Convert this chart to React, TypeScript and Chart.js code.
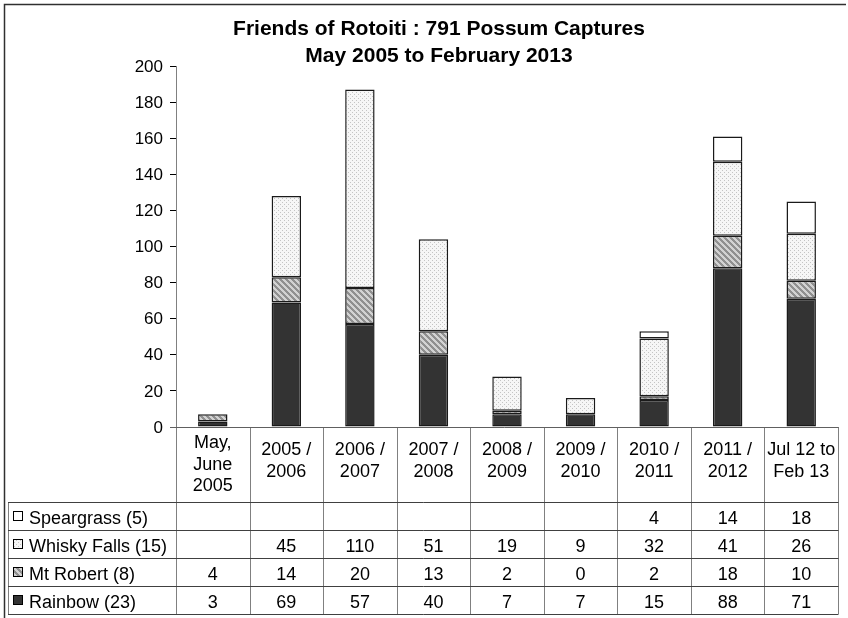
import React, { useEffect, useRef } from "react";
import { Chart, registerables } from "chart.js";

Chart.register(...registerables);

// ---- Data ----
const categoryLines: string[][] = [
  ["May,", "June", "2005"],
  ["2005 /", "2006"],
  ["2006 /", "2007"],
  ["2007 /", "2008"],
  ["2008 /", "2009"],
  ["2009 /", "2010"],
  ["2010 /", "2011"],
  ["2011 /", "2012"],
  ["Jul 12 to", "Feb 13"],
];
const categories = categoryLines.map((l) => l.join(" "));

const speargrass: (number | null)[] = [null, null, null, null, null, null, 4, 14, 18];
const whiskyFalls: (number | null)[] = [null, 45, 110, 51, 19, 9, 32, 41, 26];
const mtRobert: (number | null)[] = [4, 14, 20, 13, 2, 0, 2, 18, 10];
const rainbow: (number | null)[] = [3, 69, 57, 40, 7, 7, 15, 88, 71];

const seriesNames = ["Speargrass (5)", "Whisky Falls (15)", "Mt Robert (8)", "Rainbow (23)"];
const titleLines = ["Friends of Rotoiti : 791 Possum Captures", "May 2005 to February 2013"];
const yMin = 0;
const yMax = 200;
const yStep = 20;

const FONT = "'Liberation Sans', Arial, sans-serif";

function makeDotPattern(): CanvasPattern | string {
  const c = document.createElement("canvas");
  c.width = 4;
  c.height = 4;
  const g = c.getContext("2d");
  if (!g) return "#eeeeee";
  g.fillStyle = "#f6f6f6";
  g.fillRect(0, 0, 4, 4);
  g.fillStyle = "#c4c4c4";
  g.fillRect(0, 0, 1, 1);
  g.fillRect(2, 2, 1, 1);
  const p = g.createPattern(c, "repeat");
  return p || "#eeeeee";
}

function makeStripePattern(): CanvasPattern | string {
  const c = document.createElement("canvas");
  const n = 6;
  c.width = n;
  c.height = n;
  const g = c.getContext("2d");
  if (!g) return "#aaaaaa";
  const img = g.createImageData(n, n);
  for (let y = 0; y < n; y++) {
    for (let x = 0; x < n; x++) {
      const k = (((x - y) % n) + n) % n;
      const v = k < 3 ? 0x90 : 0xd2;
      const i = (y * n + x) * 4;
      img.data[i] = v;
      img.data[i + 1] = v;
      img.data[i + 2] = v;
      img.data[i + 3] = 255;
    }
  }
  g.putImageData(img, 0, 0);
  const p = g.createPattern(c, "repeat");
  return p || "#aaaaaa";
}

export default function App() {
  const ref = useRef<HTMLCanvasElement | null>(null);

  useEffect(() => {
    document.body.style.margin = "0";
    const canvas = ref.current;
    if (!canvas) return;

    const dots = makeDotPattern();
    const stripes = makeStripePattern();
    const fills: (CanvasPattern | string)[] = ["#ffffff", dots, stripes, "#333333"];

    const tablePlugin = {
      id: "tablePlugin",
      afterDraw(chart: any) {
        const ctx: CanvasRenderingContext2D = chart.ctx;
        const xs = chart.scales.x;
        const ys = chart.scales.y;
        const n = categories.length;
        const colW = (xs.right - xs.left) / n;
        const top = ys.getPixelForValue(0);
        const headerH = 75;
        const rowH = 28;
        const tableLeft = 8;
        const firstCol = xs.getPixelForValue(0) - colW / 2;
        const lastCol = xs.getPixelForValue(n - 1) + colW / 2;
        const bottom = top + headerH + rowH * 4;

        ctx.save();
        // outer chart border (top + left)
        ctx.strokeStyle = "#303030";
        ctx.lineWidth = 1.5;
        ctx.beginPath();
        ctx.moveTo(4.5, 618);
        ctx.lineTo(4.5, 4.5);
        ctx.lineTo(846, 4.5);
        ctx.stroke();

        // title
        ctx.fillStyle = "#000000";
        ctx.font = `bold 21px ${FONT}`;
        ctx.textAlign = "center";
        ctx.textBaseline = "alphabetic";
        ctx.fillText(titleLines[0], 439, 35);
        ctx.fillText(titleLines[1], 439, 62);

        // vertical column lines
        ctx.strokeStyle = "#808080";
        ctx.lineWidth = 1;
        for (let i = 0; i <= n; i++) {
          const x = Math.round(firstCol + i * colW) + 0.5;
          ctx.beginPath();
          ctx.moveTo(x, top);
          ctx.lineTo(x, bottom);
          ctx.stroke();
        }
        ctx.beginPath();
        ctx.moveTo(tableLeft + 0.5, top + headerH);
        ctx.lineTo(tableLeft + 0.5, bottom);
        ctx.stroke();

        // horizontal lines
        ctx.strokeStyle = "#404040";
        for (let r = 0; r <= 4; r++) {
          const y = Math.round(top + headerH + r * rowH) + 0.5;
          ctx.beginPath();
          ctx.moveTo(tableLeft, y);
          ctx.lineTo(lastCol + 0.5, y);
          ctx.stroke();
        }
        // x axis line (zero line)
        ctx.strokeStyle = "#606060";
        ctx.beginPath();
        ctx.moveTo(firstCol - 6, Math.round(top) + 0.5);
        ctx.lineTo(lastCol + 0.5, Math.round(top) + 0.5);
        ctx.stroke();

        // header labels
        ctx.font = `18px ${FONT}`;
        ctx.fillStyle = "#000000";
        ctx.textAlign = "center";
        for (let i = 0; i < n; i++) {
          const cx = xs.getPixelForValue(i);
          const lines = categoryLines[i];
          const start = lines.length === 3 ? top + 21 : top + 28;
          lines.forEach((t, k) => ctx.fillText(t, cx, start + k * 21.7));
        }

        // rows
        const rowsData = [speargrass, whiskyFalls, mtRobert, rainbow];
        rowsData.forEach((row, r) => {
          const rowTop = top + headerH + r * rowH;
          const base = rowTop + 22;
          // legend key
          const ky = Math.round(rowTop + rowH / 2 - 5);
          ctx.fillStyle = fills[r] as any;
          ctx.fillRect(13, ky, 10, 10);
          ctx.strokeStyle = "#000000";
          ctx.lineWidth = 1;
          ctx.strokeRect(13.5, ky + 0.5, 9, 9);
          ctx.fillStyle = "#000000";
          ctx.textAlign = "left";
          ctx.fillText(seriesNames[r], 29, base);
          ctx.textAlign = "center";
          row.forEach((v, i) => {
            if (v === null || v === undefined) return;
            ctx.fillText(String(v), xs.getPixelForValue(i), base);
          });
        });
        ctx.restore();
      },
    };

    const ds = (label: string, data: (number | null)[], bg: any) => ({
      label,
      data,
      backgroundColor: bg,
      borderColor: "#1a1a1a",
      borderWidth: 1.5,
      borderSkipped: false as const,
      barPercentage: 0.4,
      categoryPercentage: 1,
    });

    const chart = new Chart(canvas, {
      type: "bar",
      data: {
        labels: categories,
        datasets: [
          ds(seriesNames[3], rainbow, fills[3]),
          ds(seriesNames[2], mtRobert, fills[2]),
          ds(seriesNames[1], whiskyFalls, fills[1]),
          ds(seriesNames[0], speargrass, fills[0]),
        ],
      },
      options: {
        responsive: false,
        animation: false,
        layout: { padding: { left: 0, right: 10, top: 66, bottom: 191 } },
        plugins: {
          legend: { display: false },
          title: { display: false },
          tooltip: { enabled: false },
        },
        scales: {
          x: {
            type: "category",
            stacked: true,
            display: false,
          },
          y: {
            stacked: true,
            min: yMin,
            max: yMax,
            afterFit: (scale: any) => {
              scale.width = 176;
            },
            ticks: {
              stepSize: yStep,
              color: "#000000",
              font: { family: FONT, size: 17 },
              padding: 7,
              labelOffset: 1,
            },
            grid: {
              drawOnChartArea: false,
              drawTicks: true,
              tickLength: 6,
              color: "#000000",
            },
            border: { display: true, color: "#808080", width: 1 },
          },
        },
      },
      plugins: [tablePlugin],
    });

    return () => chart.destroy();
  }, []);

  return (
    <div style={{ width: 848, height: 618, position: "relative" }}>
      <canvas ref={ref} width={848} height={618} style={{ width: 848, height: 618, display: "block" }} />
    </div>
  );
}
